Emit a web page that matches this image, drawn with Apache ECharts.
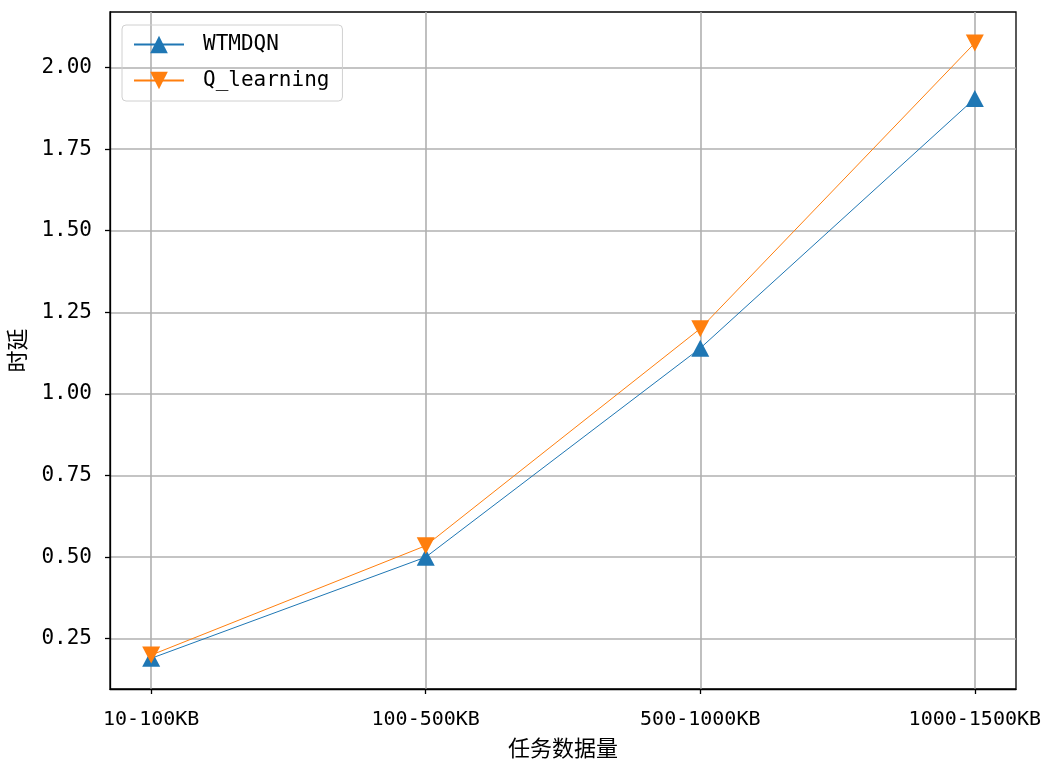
<!DOCTYPE html>
<html><head><meta charset="utf-8">
<script src="https://cdn.jsdelivr.net/npm/echarts@6/dist/echarts.min.js"></script>
<style>html,body{margin:0;padding:0;background:#fff}#c{width:1048px;height:765px}</style>
</head><body><div id="c"></div>
<script>
var categories = ['10-100KB', '100-500KB', '500-1000KB', '1000-1500KB'];
var wtmdqn = [0.19, 0.50, 1.14, 1.905];
var qlearning = [0.20, 0.535, 1.20, 2.075];
var yTicks = [0.25, 0.50, 0.75, 1.00, 1.25, 1.50, 1.75, 2.00];
var xTicks = [0, 1, 2, 3];

var chart = echarts.init(document.getElementById('c'), null, {renderer: 'canvas'});
function pts(arr) { return arr.map(function (v, i) { return [i, v]; }); }
var mono = 'DejaVu Sans Mono';
chart.setOption({
  animation: false,
  backgroundColor: '#fff',
  grid: {left: 110, right: 32, top: 12, bottom: 76, containLabel: false, outerBoundsMode: 'none',
    show: true, borderColor: '#000', borderWidth: 1.3, backgroundColor: 'transparent'},
  legend: {
    orient: 'vertical', left: 122, top: 25,
    padding: [9, 13, 10, 11], itemGap: 15, itemWidth: 50, itemHeight: 22,
    borderColor: '#d0d0d0', borderWidth: 1, borderRadius: 4,
    textStyle: {fontFamily: mono, fontSize: 21, color: '#000', padding: [0, 0, 0, 14]},
    data: ['WTMDQN', 'Q_learning']
  },
  xAxis: {
    type: 'value', min: -0.15, max: 3.15,
    name: '任务数据量', nameLocation: 'middle', nameGap: 48,
    nameTextStyle: {fontFamily: 'Noto Sans CJK SC', fontSize: 22, color: '#000'},
    axisLine: {show: true, onZero: false, lineStyle: {color: '#000', width: 1.3}},
    axisTick: {show: true, inside: false, length: 5, customValues: xTicks, lineStyle: {color: '#000', width: 1.3}},
    axisLabel: {customValues: xTicks, margin: 21, fontFamily: mono, fontSize: 20, color: '#000',
      formatter: function (v) { return categories[Math.round(v)]; }},
    splitLine: {show: true, lineStyle: {color: '#b0b0b0', width: 1.6}}
  },
  yAxis: {
    type: 'value', min: 0.096, max: 2.17,
    name: '时延', nameLocation: 'middle', nameGap: 82, nameRotate: 90,
    nameTextStyle: {fontFamily: 'Noto Sans CJK SC', fontSize: 22, color: '#000'},
    axisLine: {show: true, onZero: false, lineStyle: {color: '#000', width: 1.3}},
    axisTick: {show: true, inside: false, length: 5, customValues: yTicks, lineStyle: {color: '#000', width: 1.3}},
    axisLabel: {customValues: yTicks, margin: 18, fontFamily: mono, fontSize: 21, color: '#000',
      formatter: function (v) { return v.toFixed(2); }},
    splitLine: {show: true, lineStyle: {color: '#b0b0b0', width: 1.6}}
  },
  series: [
    {name: 'WTMDQN', type: 'line', data: pts(wtmdqn), color: '#1f77b4',
      symbol: 'triangle', symbolSize: [18, 17], showAllSymbol: true,
      lineStyle: {width: 1, color: '#1f77b4'}, itemStyle: {color: '#1f77b4'}, z: 3},
    {name: 'Q_learning', type: 'line', data: pts(qlearning), color: '#ff7f0e',
      symbol: 'triangle', symbolRotate: 180, symbolSize: [18, 17], showAllSymbol: true,
      lineStyle: {width: 1, color: '#ff7f0e'}, itemStyle: {color: '#ff7f0e'}, z: 4}
  ]
});
</script></body></html>
